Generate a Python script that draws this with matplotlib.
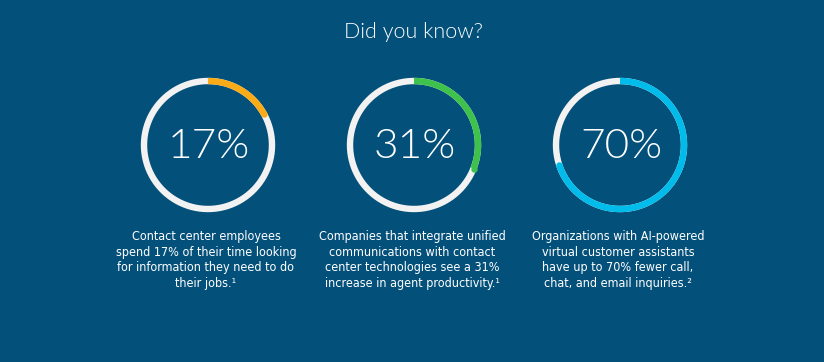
import numpy as np
import matplotlib.pyplot as plt
import matplotlib

TITLE = "Did you know?"
PCTS = [17, 31, 70]
COLORS = ['#FBAB18', '#3FC24C', '#00BCEB']
LABELS = ["Contact center employees\nspend 17% of their time looking\nfor information they need to do\ntheir jobs.\u00b9",
          "Companies that integrate unified\ncommunications with contact\ncenter technologies see a 31%\nincrease in agent productivity.\u00b9",
          "Organizations with AI-powered\nvirtual customer assistants\nhave up to 70% fewer call,\nchat, and email inquiries.\u00b2"]

BG = '#03507A'
TRACK = '#F2F2F2'

fig = plt.figure(figsize=(8.24, 3.62), dpi=100)
fig.patch.set_facecolor(BG)
ax = fig.add_axes([0, 0, 1, 1])
ax.set_xlim(0, 824)
ax.set_ylim(362, 0)
ax.set_aspect('equal')
ax.axis('off')

# ring layout (pixels)
cx0, dx, cy, r = 208, 206, 145, 64
t = np.linspace(0, 2*np.pi, 400)
for i, (p, c, lab) in enumerate(zip(PCTS, COLORS, LABELS)):
    cx = cx0 + i*dx
    ax.plot(cx + r*np.sin(t), cy - r*np.cos(t), color=TRACK, lw=4.6, solid_capstyle='butt')
    ta = np.linspace(0, 2*np.pi*p/100, 300)
    ax.plot(cx + r*np.sin(ta), cy - r*np.cos(ta), color=c, lw=4.6, solid_capstyle='butt')
    ax.plot(cx + r*np.sin(ta[-1]), cy - r*np.cos(ta[-1]), 'o', ms=4.6, color=c, mec='none')
    ax.text(cx + 1, cy + 1.5, '%d%%' % p, color='white', fontsize=30.5, fontfamily='Lato',
            fontweight=300, ha='center', va='center')
    ax.text(cx - 2, 260, lab, color='white', fontsize=9, fontfamily='DejaVu Sans',
            fontstretch='condensed', fontweight='normal', ha='center', va='center',
            multialignment='center', linespacing=1.24)

ax.text(414, 32, TITLE, color='white', fontsize=15.5, fontfamily='Lato', fontweight=300,
        ha='center', va='center')

fig.savefig('out.png', dpi=100, facecolor=BG)
